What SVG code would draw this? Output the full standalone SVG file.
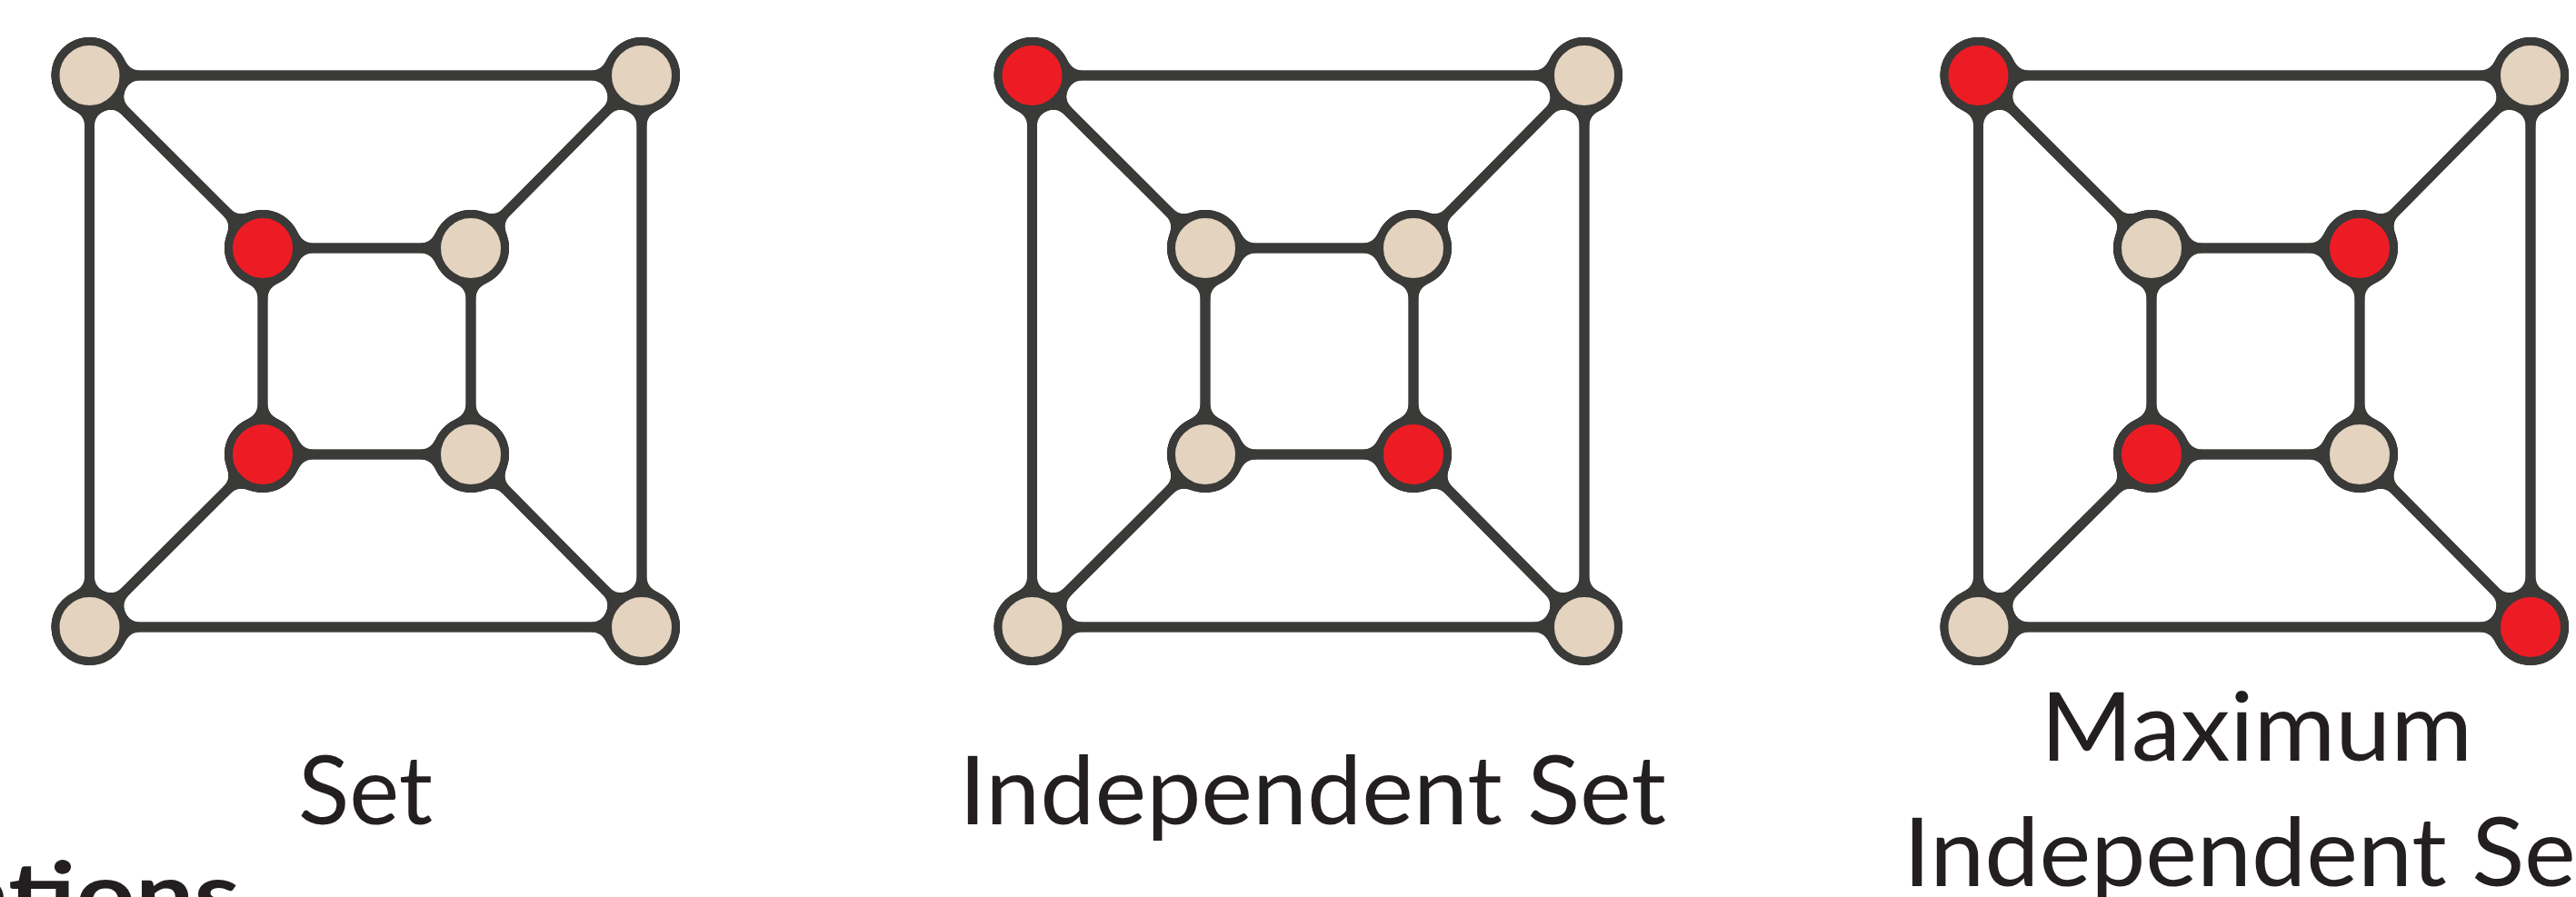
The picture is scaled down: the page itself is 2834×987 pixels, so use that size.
<svg xmlns="http://www.w3.org/2000/svg" width="2834" height="987" viewBox="0 0 2834 987">
<style>
.e{stroke:#3a3a38;stroke-width:11;stroke-linecap:round;fill:none}
.n{stroke:#3a3a38;stroke-width:9}
.b{fill:#e3d3bf}
.r{fill:#ed1c24}
.t{font-family:Lato,"Open Sans","Liberation Sans",sans-serif;font-size:105px;fill:#231f20}
.tb{font-family:Lato,"Open Sans","Liberation Sans",sans-serif;font-size:100px;font-weight:bold;fill:#231f20}
</style>
<defs>
<filter id="goo" filterUnits="userSpaceOnUse" x="0" y="0" width="2834" height="987" color-interpolation-filters="sRGB">
<feGaussianBlur in="SourceAlpha" stdDeviation="7" result="bl"/>
<feColorMatrix in="bl" type="matrix" values="0 0 0 0 0  0 0 0 0 0  0 0 0 0 0  0 0 0 25 -11" result="th"/>
<feFlood flood-color="#3a3a38"/>
<feComposite in2="th" operator="in" result="g"/>
<feMerge><feMergeNode in="g"/><feMergeNode in="SourceGraphic"/></feMerge>
</filter>
</defs>
<rect width="2834" height="987" fill="#fff"/>

<g id="graph1" filter="url(#goo)">
<g id="g1-connectors">
<line class="e" x1="98.5" y1="83" x2="706" y2="83"/>
<line class="e" x1="98.5" y1="690" x2="706" y2="690"/>
<line class="e" x1="98.5" y1="83" x2="98.5" y2="690"/>
<line class="e" x1="706" y1="83" x2="706" y2="690"/>
<line class="e" x1="289" y1="273" x2="518" y2="273"/>
<line class="e" x1="289" y1="500" x2="518" y2="500"/>
<line class="e" x1="289" y1="273" x2="289" y2="500"/>
<line class="e" x1="518" y1="273" x2="518" y2="500"/>
<line class="e" x1="98.5" y1="83" x2="289" y2="273"/>
<line class="e" x1="706" y1="83" x2="518" y2="273"/>
<line class="e" x1="98.5" y1="690" x2="289" y2="500"/>
<line class="e" x1="706" y1="690" x2="518" y2="500"/>
</g>
<g id="g1-otl"><circle class="n b" cx="98.5" cy="83" r="37.5"/></g>
<g id="g1-otr"><circle class="n b" cx="706" cy="83" r="37.5"/></g>
<g id="g1-obl"><circle class="n b" cx="98.5" cy="690" r="37.5"/></g>
<g id="g1-obr"><circle class="n b" cx="706" cy="690" r="37.5"/></g>
<g id="g1-itl"><circle class="n r" cx="289" cy="273" r="37.5"/></g>
<g id="g1-itr"><circle class="n b" cx="518" cy="273" r="37.5"/></g>
<g id="g1-ibl"><circle class="n r" cx="289" cy="500" r="37.5"/></g>
<g id="g1-ibr"><circle class="n b" cx="518" cy="500" r="37.5"/></g>
</g>

<g id="graph2" filter="url(#goo)">
<g id="g2-connectors">
<line class="e" x1="1135.5" y1="83" x2="1743" y2="83"/>
<line class="e" x1="1135.5" y1="690" x2="1743" y2="690"/>
<line class="e" x1="1135.5" y1="83" x2="1135.5" y2="690"/>
<line class="e" x1="1743" y1="83" x2="1743" y2="690"/>
<line class="e" x1="1326" y1="273" x2="1555" y2="273"/>
<line class="e" x1="1326" y1="500" x2="1555" y2="500"/>
<line class="e" x1="1326" y1="273" x2="1326" y2="500"/>
<line class="e" x1="1555" y1="273" x2="1555" y2="500"/>
<line class="e" x1="1135.5" y1="83" x2="1326" y2="273"/>
<line class="e" x1="1743" y1="83" x2="1555" y2="273"/>
<line class="e" x1="1135.5" y1="690" x2="1326" y2="500"/>
<line class="e" x1="1743" y1="690" x2="1555" y2="500"/>
</g>
<g id="g2-otl"><circle class="n r" cx="1135.5" cy="83" r="37.5"/></g>
<g id="g2-otr"><circle class="n b" cx="1743" cy="83" r="37.5"/></g>
<g id="g2-obl"><circle class="n b" cx="1135.5" cy="690" r="37.5"/></g>
<g id="g2-obr"><circle class="n b" cx="1743" cy="690" r="37.5"/></g>
<g id="g2-itl"><circle class="n b" cx="1326" cy="273" r="37.5"/></g>
<g id="g2-itr"><circle class="n b" cx="1555" cy="273" r="37.5"/></g>
<g id="g2-ibl"><circle class="n b" cx="1326" cy="500" r="37.5"/></g>
<g id="g2-ibr"><circle class="n r" cx="1555" cy="500" r="37.5"/></g>
</g>

<g id="graph3" filter="url(#goo)">
<g id="g3-connectors">
<line class="e" x1="2176.5" y1="83" x2="2784" y2="83"/>
<line class="e" x1="2176.5" y1="690" x2="2784" y2="690"/>
<line class="e" x1="2176.5" y1="83" x2="2176.5" y2="690"/>
<line class="e" x1="2784" y1="83" x2="2784" y2="690"/>
<line class="e" x1="2367" y1="273" x2="2596" y2="273"/>
<line class="e" x1="2367" y1="500" x2="2596" y2="500"/>
<line class="e" x1="2367" y1="273" x2="2367" y2="500"/>
<line class="e" x1="2596" y1="273" x2="2596" y2="500"/>
<line class="e" x1="2176.5" y1="83" x2="2367" y2="273"/>
<line class="e" x1="2784" y1="83" x2="2596" y2="273"/>
<line class="e" x1="2176.5" y1="690" x2="2367" y2="500"/>
<line class="e" x1="2784" y1="690" x2="2596" y2="500"/>
</g>
<g id="g3-otl"><circle class="n r" cx="2176.5" cy="83" r="37.5"/></g>
<g id="g3-otr"><circle class="n b" cx="2784" cy="83" r="37.5"/></g>
<g id="g3-obl"><circle class="n b" cx="2176.5" cy="690" r="37.5"/></g>
<g id="g3-obr"><circle class="n r" cx="2784" cy="690" r="37.5"/></g>
<g id="g3-itl"><circle class="n b" cx="2367" cy="273" r="37.5"/></g>
<g id="g3-itr"><circle class="n r" cx="2596" cy="273" r="37.5"/></g>
<g id="g3-ibl"><circle class="n r" cx="2367" cy="500" r="37.5"/></g>
<g id="g3-ibr"><circle class="n b" cx="2596" cy="500" r="37.5"/></g>
</g>

<g id="labels">
<text class="t" x="328" y="907" textLength="148" lengthAdjust="spacingAndGlyphs">Set</text>
<text class="t" x="1055" y="907" textLength="778" lengthAdjust="spacingAndGlyphs">Independent Set</text>
<text class="t" x="2245" y="837" textLength="475" lengthAdjust="spacingAndGlyphs">Maximum</text>
<text class="t" x="2094" y="975" textLength="778" lengthAdjust="spacingAndGlyphs">Independent Set</text>
<text class="tb" x="-48" y="1020" textLength="312" lengthAdjust="spacingAndGlyphs">ations</text>
</g>
</svg>
